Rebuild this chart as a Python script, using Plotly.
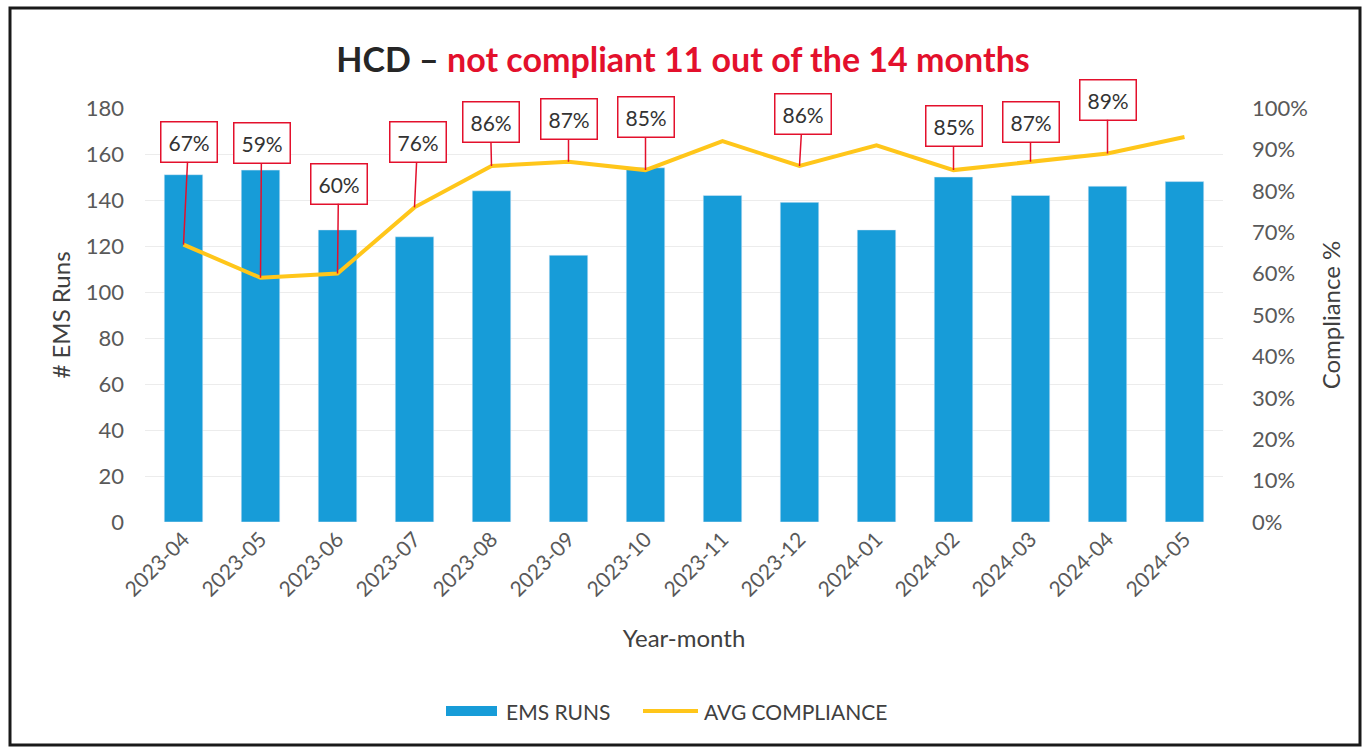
import plotly.graph_objects as go

# Monthly EMS run counts and average compliance
months = ["2023-04", "2023-05", "2023-06", "2023-07", "2023-08", "2023-09", "2023-10",
          "2023-11", "2023-12", "2024-01", "2024-02", "2024-03", "2024-04", "2024-05"]
ems_runs = [151, 153, 127, 124, 144, 116, 154, 142, 139, 127, 150, 142, 146, 148]
avg_compliance = [0.67, 0.59, 0.60, 0.76, 0.86, 0.87, 0.85, 0.92, 0.86, 0.91, 0.85, 0.87, 0.89, 0.93]

# Months below the 90% target get a callout; offsets place each callout box
target = 0.90
callout_dx = [5, 1, 1, 3, -1, 0, 0, 0, 3, 0, 0, 0, 0, 0]
callout_dy = [-103, -135, -90, -65, -44, -43, -53, 0, -52, 0, -44, -40, -54, 0]

BAR = "#179CD8"
LINE = "#FFC61A"
RED = "#E3102C"
GREY = "#595959"
DARK = "#404040"
FONT = "Lato"

fig = go.Figure()
fig.add_trace(go.Bar(x=months, y=ems_runs, name="EMS RUNS", marker_color=BAR,
                     width=0.5, yaxis="y", showlegend=False))
fig.add_trace(go.Scatter(x=months, y=avg_compliance, name="AVG COMPLIANCE", mode="lines",
                         line=dict(color=LINE, width=4), yaxis="y2", showlegend=False))

for m, v, dx, dy in zip(months, avg_compliance, callout_dx, callout_dy):
    if v >= target:
        continue
    fig.add_annotation(x=m, y=v, xref="x", yref="y2", text=f"{round(v * 100)}%",
                       showarrow=True, arrowhead=0, arrowwidth=1.5, arrowcolor=RED,
                       ax=dx, ay=dy, standoff=0,
                       bordercolor=RED, borderwidth=1.5, borderpad=7, bgcolor="white",
                       font=dict(family=FONT, size=21, color="#333333"))

W, H = 1366, 747
L, R, T, B = 145, 143, 108, 225
pw, ph = W - L - R, H - T - B


def px(x):
    return (x - L) / pw


def py(y):
    return (H - B - y) / ph


# Outer frame
fig.add_shape(type="rect", xref="paper", yref="paper",
              x0=px(10), x1=px(1360), y0=py(745), y1=py(8),
              line=dict(color="#1a1a1a", width=3), layer="below")

# Legend row: wide colour keys followed by series names
legend_y = 711
fig.add_shape(type="rect", xref="paper", yref="paper",
              x0=px(446), x1=px(497), y0=py(716), y1=py(706),
              fillcolor=BAR, line=dict(width=0))
fig.add_annotation(xref="paper", yref="paper", x=px(504), y=py(legend_y),
                   xanchor="left", yanchor="middle", showarrow=False, text="EMS RUNS",
                   font=dict(family=FONT, size=21, color=DARK))
fig.add_shape(type="line", xref="paper", yref="paper",
              x0=px(643), x1=px(698), y0=py(legend_y), y1=py(legend_y),
              line=dict(color=LINE, width=4))
fig.add_annotation(xref="paper", yref="paper", x=px(702), y=py(legend_y),
                   xanchor="left", yanchor="middle", showarrow=False, text="AVG COMPLIANCE",
                   font=dict(family=FONT, size=21, color=DARK))

fig.update_layout(
    width=W, height=H,
    margin=dict(l=L, r=R, t=T, b=B),
    paper_bgcolor="white", plot_bgcolor="white",
    font=dict(family=FONT, color=GREY, size=22),
    showlegend=False,
    title=dict(
        text="<b><span style='color:#262626'>HCD – </span>"
             f"<span style='color:{RED}'>not compliant 11 out of the 14 months</span></b>",
        x=0.5, xref="container", xanchor="center", y=1 - 60 / H, yref="container",
        yanchor="middle", font=dict(family=FONT, size=34)),
    xaxis=dict(type="category", tickangle=-45, range=[-0.5, 13.5],
               tickfont=dict(size=21, color=GREY), showgrid=False,
               title=dict(text="Year-month", font=dict(size=24, color=DARK), standoff=30),
               showline=False, ticks=""),
    yaxis=dict(range=[0, 180], dtick=20, showgrid=True, gridcolor="#ececec", gridwidth=1,
               zeroline=False, tickfont=dict(size=22, color=GREY), ticklabelstandoff=20,
               title=dict(text="# EMS Runs", font=dict(size=24, color=DARK), standoff=8)),
    yaxis2=dict(range=[0, 1], dtick=0.1, tickformat=".0%", overlaying="y", side="right",
                showgrid=False, zeroline=False, tickfont=dict(size=22, color=GREY),
                ticklabelstandoff=28,
                title=dict(text="Compliance %", font=dict(size=24, color=DARK), standoff=16)),
    bargap=0.5,
)

fig.write_html("out.html")
